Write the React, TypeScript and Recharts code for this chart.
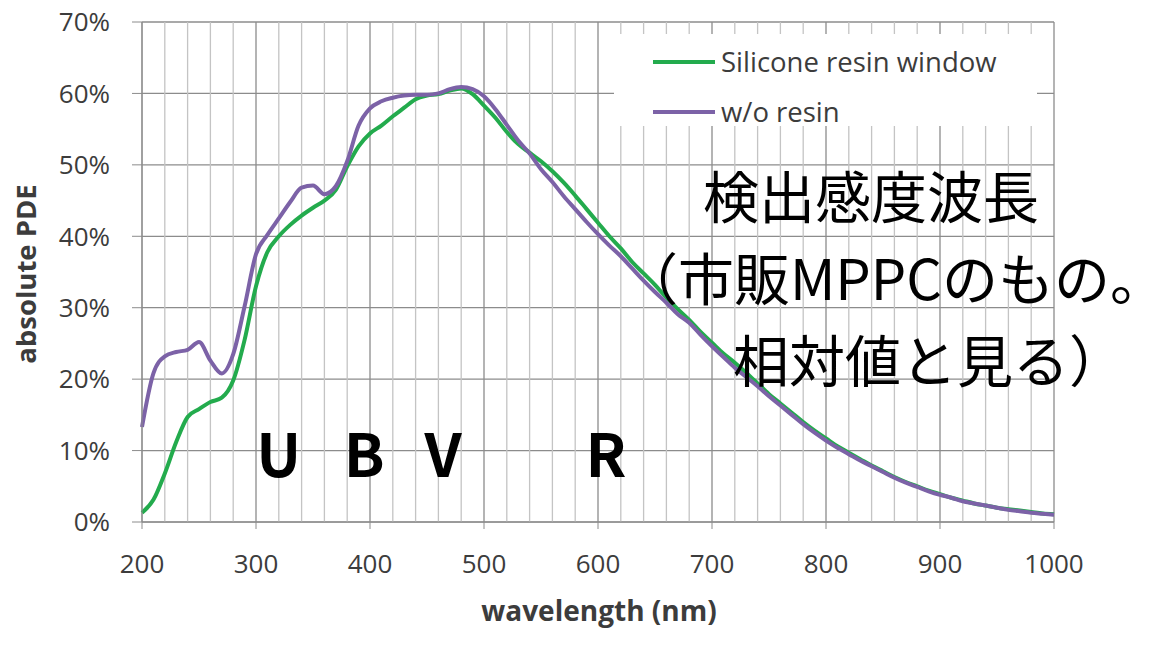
import React from 'react';
import {
  LineChart,
  Line,
  XAxis,
  YAxis,
  CartesianGrid,
  ReferenceLine,
  ReferenceDot,
  Legend,
} from 'recharts';

// ---------- data ----------
const wavelengths = [
  200, 210, 220, 230, 240, 250, 260, 270, 280, 290,
  300, 310, 320, 330, 340, 350, 360, 370, 380, 390,
  400, 410, 420, 430, 440, 450, 460, 470, 480, 490,
  500, 510, 520, 530, 540, 550, 560, 570, 580, 590,
  600, 610, 620, 630, 640, 650, 660, 670, 680, 690,
  700, 710, 720, 730, 740, 750, 760, 770, 780, 790,
  800, 810, 820, 830, 840, 850, 860, 870, 880, 890,
  900, 910, 920, 930, 940, 950, 960, 970, 980, 990,
  1000,
];

const siliconeResin = [
  1.3, 3.1, 6.8, 11.2, 14.7, 15.8, 16.8, 17.4, 19.8, 25.5,
  33.0, 37.8, 40.0, 41.6, 42.9, 44.0, 45.0, 46.5, 49.8, 52.6,
  54.4, 55.5, 56.8, 58.0, 59.2, 59.7, 59.9, 60.4, 60.7, 59.9,
  58.3, 56.6, 54.6, 52.9, 51.7, 50.5, 49.1, 47.5, 45.7, 43.8,
  41.9, 40.0, 38.3, 36.4, 34.8, 33.2, 31.4, 29.8, 28.3, 26.6,
  25.1, 23.6, 22.3, 20.9, 19.4, 17.9, 16.6, 15.3, 14.0, 12.8,
  11.7, 10.6, 9.7, 8.8, 7.9, 7.1, 6.3, 5.6, 5.0, 4.4,
  3.9, 3.4, 3.0, 2.6, 2.3, 2.0, 1.8, 1.6, 1.4, 1.2,
  1.1,
];

const withoutResin = [
  13.3, 20.8, 23.2, 23.8, 24.1, 25.2, 22.6, 20.8, 23.5, 30.2,
  37.5, 40.2, 42.5, 44.8, 46.8, 47.1, 45.9, 47.0, 50.5, 55.5,
  57.9, 58.9, 59.4, 59.7, 59.8, 59.8, 60.0, 60.6, 60.9, 60.6,
  59.6, 57.8, 55.6, 53.4, 51.6, 49.4, 47.6, 45.6, 43.8, 42.0,
  40.3, 38.7, 37.2, 35.5, 33.8, 32.2, 30.7, 29.1, 27.9, 26.2,
  24.6, 23.1, 21.6, 20.3, 19.0, 17.6, 16.3, 15.0, 13.7, 12.5,
  11.4, 10.4, 9.5, 8.6, 7.8, 7.0, 6.2, 5.5, 4.9, 4.3,
  3.8, 3.4, 2.9, 2.6, 2.3, 2.0, 1.7, 1.5, 1.3, 1.15,
  1.0,
];

const seriesNames = ['Silicone resin window', 'w/o resin'];

const xTicks = [200, 300, 400, 500, 600, 700, 800, 900, 1000];
const minorXTicks = [
  220, 240, 260, 280, 320, 340, 360, 380, 420, 440, 460, 480,
  520, 540, 560, 580, 620, 640, 660, 680, 720, 740, 760, 780,
  820, 840, 860, 880, 920, 940, 960, 980,
];
const yTicks = [0, 10, 20, 30, 40, 50, 60, 70];

const bandLabels = ['U', 'B', 'V', 'R'];
const bandWavelengths = [320, 395, 464, 607];
const bandLevel = 10;

const noteLines = ['検出感度波長', '（市販MPPCのもの。', '相対値と見る）'];

const xTitle = 'wavelength (nm)';
const yTitle = 'absolute PDE';

// ---------- styles ----------
const GREEN = '#23ab4d';
const PURPLE = '#7c62a7';
const MAJOR_GRID = '#8c8c8c';
const MINOR_GRID = '#c4c4c4';
const TEXT = '#3c3c3c';
const FONT = "'Open Sans', sans-serif";
const CJK = "'Noto Sans CJK JP', sans-serif";

const rows = wavelengths.map((wl, i) => ({
  wl,
  silicone: siliconeResin[i],
  wo: withoutResin[i],
}));

const LegendBox = (props: any) => {
  const payload = props.payload || [];
  return (
    <div style={{ width: 423, height: 92, background: '#fff', position: 'relative' }}>
      {payload.map((entry: any, i: number) => (
        <div
          key={i}
          style={{
            position: 'absolute',
            left: 39,
            top: 8 + i * 50,
            height: 40,
            display: 'flex',
            alignItems: 'center',
            whiteSpace: 'nowrap',
          }}
        >
          <span style={{ display: 'inline-block', width: 62, height: 4, background: entry.color }} />
          <span style={{ marginLeft: 6, fontSize: 27.5, color: TEXT, fontFamily: FONT, lineHeight: '40px' }}>
            {entry.value}
          </span>
        </div>
      ))}
    </div>
  );
};

const YTitle = (props: any) => {
  const vb = props.viewBox || { x: 0, y: 22, width: 142, height: 500 };
  const cx = vb.x + 25;
  const cy = vb.y + vb.height / 2 + 2;
  return (
    <text
      x={cx}
      y={cy}
      transform={`rotate(-90 ${cx} ${cy})`}
      textAnchor="middle"
      dominantBaseline="central"
      fontFamily={FONT}
      fontWeight={700}
      fontSize={27.5}
      fill={TEXT}
    >
      {yTitle}
    </text>
  );
};

const XTitle = (props: any) => {
  const vb = props.viewBox || { x: 142, y: 522, width: 912, height: 123 };
  return (
    <text
      x={vb.x + vb.width / 2 + 1}
      y={vb.y + 99}
      textAnchor="middle"
      fontFamily={FONT}
      fontWeight={700}
      fontSize={28}
      fill={TEXT}
    >
      {xTitle}
    </text>
  );
};

const bandShape = (label: string) => (p: any) => (
  <text
    x={p.cx}
    y={p.cy}
    textAnchor="middle"
    dominantBaseline="central"
    fontFamily={CJK}
    fontWeight={700}
    fontSize={60}
    fill="#000"
  >
    {label}
  </text>
);

export default function App() {
  return (
    <div style={{ position: 'absolute', left: 0, top: 0, width: 1168, height: 645, background: '#fff' }}>
      <LineChart
        width={1168}
        height={645}
        data={rows}
        margin={{ top: 22, right: 114, bottom: 0, left: 0 }}
      >
        <CartesianGrid stroke={MAJOR_GRID} strokeWidth={1.3} />
        {minorXTicks.map((t) => (
          <ReferenceLine key={t} x={t} stroke={MINOR_GRID} strokeWidth={1.3} />
        ))}
        <XAxis
          dataKey="wl"
          type="number"
          domain={[200, 1000]}
          ticks={xTicks}
          height={123}
          tickSize={7}
          tickMargin={26}
          stroke={MAJOR_GRID}
          tick={{ fill: TEXT, fontSize: 26, fontFamily: FONT }}
          label={{ content: XTitle }}
        />
        <YAxis
          type="number"
          domain={[0, 70]}
          ticks={yTicks}
          width={142}
          tickSize={10}
          tickMargin={22}
          stroke={MAJOR_GRID}
          tickFormatter={(v: number) => `${v}%`}
          tick={{ fill: TEXT, fontSize: 26, fontFamily: FONT }}
          label={{ content: YTitle }}
        />
        {bandLabels.map((b, i) => (
          <ReferenceDot
            key={b}
            x={bandWavelengths[i]}
            y={bandLevel}
            r={0}
            shape={bandShape(b)}
          />
        ))}
        <Line
          type="monotone"
          dataKey="silicone"
          name={seriesNames[0]}
          stroke={GREEN}
          strokeWidth={4}
          dot={false}
          isAnimationActive={false}
        />
        <Line
          type="monotone"
          dataKey="wo"
          name={seriesNames[1]}
          stroke={PURPLE}
          strokeWidth={4}
          dot={false}
          isAnimationActive={false}
        />
        <Legend
          layout="vertical"
          align="center"
          verticalAlign="middle"
          content={LegendBox}
          wrapperStyle={{ left: 614, top: 34, width: 423, height: 92 }}
        />
      </LineChart>
      <svg
        width={1168}
        height={645}
        style={{ position: 'absolute', left: 0, top: 0, pointerEvents: 'none' }}
      >
        <text x={703} y={218} fontFamily={CJK} fontSize={56} fill="#000">
          {noteLines[0]}
        </text>
        <text x={1166} y={300} textAnchor="end" fontFamily={CJK} fontSize={56} fill="#000">
          {noteLines[1]}
        </text>
        <text x={733} y={382} fontFamily={CJK} fontSize={56} fill="#000">
          {noteLines[2]}
        </text>
      </svg>
    </div>
  );
}
